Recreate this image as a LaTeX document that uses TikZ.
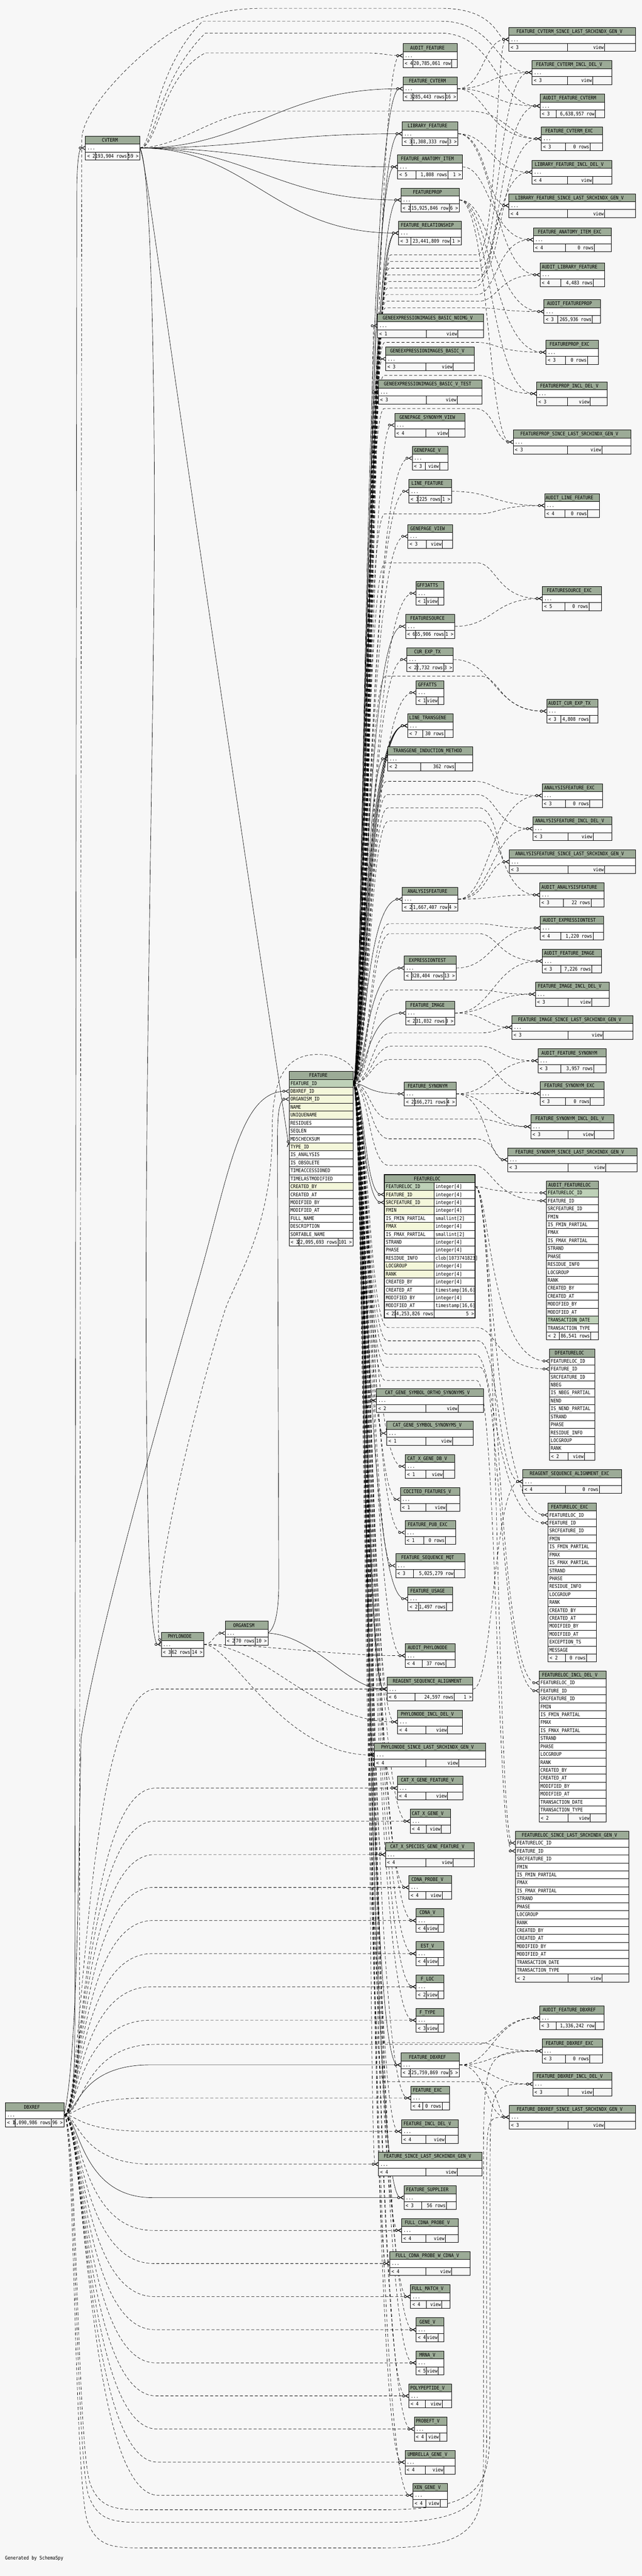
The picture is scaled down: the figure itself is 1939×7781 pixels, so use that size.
\documentclass[tikz,border=0pt]{standalone}
\usepackage{fontspec}
\newfontfamily\tf[FakeStretch=0.88]{DejaVu Sans Mono}
\usetikzlibrary{arrows.meta}
\definecolor{bgc}{HTML}{F7F7F7}
\definecolor{hdc}{HTML}{9CAB97}
\definecolor{pkc}{HTML}{BED1B8}
\definecolor{ixc}{HTML}{F4F7DA}
\definecolor{ftc}{HTML}{F7F7F7}
\pgfdeclarelayer{canvas}
\pgfdeclarelayer{edges}
\pgfsetlayers{canvas,edges,main}
\tikzset{
 cell/.style={draw=black,line width=0.55pt},
 txt/.style={inner sep=0pt,font=\tf\fontsize{7.55pt}{9pt}\selectfont,text height=5.5pt,text depth=0pt},
 tnode/.style={inner sep=0pt,minimum height=36pt},
 rnode/.style={inner sep=0pt,minimum height=12pt},
 crowtip/.style={-{Circle[fill=white,length=4pt,line width=0.7pt] Straight Barb[reversed,length=4.5pt,width=5pt,line width=0.8pt]}},
 fk/.style={line width=0.5pt,crowtip},
 imp/.style={line width=0.5pt,dash pattern=on 4.5pt off 3pt,crowtip},
}
\newcommand\zfoot[9]{%
 \fill[ftc] (#2,#4) rectangle (#3,#4+24);
 \draw[cell] (#2,#4) rectangle (#3,#4+24) (#8,#4) -- (#8,#4+24) (#9,#4) -- (#9,#4+24);
 \node[txt,anchor=west] (#1-fl) at (#2+5,#4+12) {#5};
 \node[txt,anchor=east] (#1-fm) at (#9-2,#4+12) {#6};
 \node[txt,anchor=east] (#1-fr) at (#3-3,#4+12) {#7};}
\newcommand\ztbl[9]{%
 \node[tnode,minimum width={(#3-#2)*0.5pt}] (#1) at ({(#2+#3)/2},#4+36) {};
 \fill[hdc] (#2,#4) rectangle (#3,#4+24);
 \fill[white] (#2,#4+24) rectangle (#3,#4+48);
 \draw[cell] (#2,#4) rectangle (#3,#4+48) (#2,#4+24) -- (#3,#4+24);
 \node[txt] (#1-t) at ({(#2+#3)/2-8},#4+12) {#1};
 \node[txt,anchor=west] (#1-d) at (#2+5,#4+36) {...};
 \zfoot{#1}{#2}{#3}{#4+48}{#5}{#6}{#7}{#8}{#9}}
\newcommand\zdtbl[6]{%
 \node[inner sep=0pt,minimum width={(#3-#2)*0.5pt},minimum height={(#5+2)*12pt}] (#1) at ({(#2+#3)/2},{#4+(#5+2)*12}) {};
 \fill[hdc] (#2,#4) rectangle (#3,#4+24);
 \node[txt] (#1-t) at ({(#2+#3)/2-8},#4+12) {#1};
 \foreach \tx/\cc [count=\i] in {#6}{%
  \fill[\cc] (#2,{#4+24*\i}) rectangle (#3,{#4+24*\i+24});
  \node[rnode,minimum width={(#3-#2)*0.5pt}] (#1-\i) at ({(#2+#3)/2},{#4+24*\i+12}) {};
  \node[txt,anchor=west] (#1-c\i) at (#2+4,{#4+24*\i+12}) {\tx};
  \draw[cell] (#2,{#4+24*\i}) -- (#3,{#4+24*\i});
 }
 \draw[cell] (#2,#4) rectangle (#3,{#4+24*(#5+1)});}
\newcommand\zdtblt[7]{%
 \node[inner sep=0pt,minimum width={(#3-#2)*0.5pt},minimum height={(#5+2)*12pt}] (#1) at ({(#2+#3)/2},{#4+(#5+2)*12}) {};
 \fill[hdc] (#2,#4) rectangle (#3,#4+24);
 \node[txt] (#1-t) at ({(#2+#3)/2-8},#4+12) {#1};
 \foreach \tx/\cc/\ty [count=\i] in {#6}{%
  \fill[\cc] (#2,{#4+24*\i}) rectangle (#7,{#4+24*\i+24});
  \fill[white] (#7,{#4+24*\i}) rectangle (#3,{#4+24*\i+24});
  \node[rnode,minimum width={(#3-#2)*0.5pt}] (#1-\i) at ({(#2+#3)/2},{#4+24*\i+12}) {};
  \node[txt,anchor=west] (#1-c\i) at (#2+4,{#4+24*\i+12}) {\tx};
  \node[txt,anchor=west] (#1-y\i) at (#7+4,{#4+24*\i+12}) {\ty};
  \draw[cell] (#2,{#4+24*\i}) -- (#3,{#4+24*\i});
 }
 \draw[cell] (#7,#4+24) -- (#7,{#4+24*(#5+1)});
 \draw[cell] (#2,#4) rectangle (#3,{#4+24*(#5+1)});}
\newcommand\zvc[4]{\draw[#1] (#3) .. controls (#2,0|-#3) and (#2,0|-#4) .. (#4);}
\newcommand\zfm[3]{\zvc{#1}{#2}{FEATURE-1.east}{#3.west}}
\newcommand\zfr[5]{\draw[#1] (FEATURE-1.east) .. controls (#2,3272) and (#2,#3) .. (#2+60,#3) -- (#4-60,#3) .. controls (#4,#3) and (#4,0|-#5.west) .. (#5.west);}
\newcommand\zdm[3]{\draw[#1] (DBXREF.east) .. controls (#2,0|-DBXREF.east) and (#2,0|-#3.west) .. (#2+220,0|-#3.west) -- (#3.west);}
\newcommand\zcm[1]{\draw[fk] (CVTERM.east) .. controls +(330,0) and +(-380,0) .. (#1.west);}
\newcommand\zct[3]{\draw[imp] (CVTERM.east) .. controls (#3,447) and (#3,#2+150) .. (#3+150,#2) -- (1330,#2) .. controls (1500,#2) and (1500,0|-#1.west) .. (#1.west);}
\newcommand\zdl[4]{\draw[imp] (DBXREF.east) .. controls (#3,6388) and (#3,#2-200) .. (#3+40,#2-80) .. controls (#3+70,#2) and (#3+120,#2) .. (#3+220,#2) -- (1150,#2) .. controls (#4,#2) and (#4,#2-80) .. (#4,#2-300) -- (#4,6600) .. controls (#4,0|-#1.west) .. (#1.west);}
\begin{document}
\catcode`\_=12
\begin{tikzpicture}[x=0.5pt,y=-0.5pt]
\begin{pgfonlayer}{canvas}
\fill[bgc] (0,0) rectangle (1939,7781);
\end{pgfonlayer}
\useasboundingbox (0,0) rectangle (1939,7781);
% ---------------- left column
\ztbl{CVTERM}{258}{422}{411}{< 2}{193,904 rows}{59 >}{288}{386}
\ztbl{PHYLONODE}{487}{615}{4931}{< 3}{62 rows}{14 >}{517}{577}
\ztbl{ORGANISM}{680}{809}{4897}{< 2}{70 rows}{10 >}{709}{771}
\ztbl{DBXREF}{16}{193}{6352}{< 1}{6,090,986 rows}{96 >}{45}{155}
\zdtbl{FEATURE}{873}{1066}{3236}{20}{FEATURE_ID/pkc,DBXREF_ID/ixc,ORGANISM_ID/ixc,NAME/ixc,UNIQUENAME/ixc,RESIDUES/white,SEQLEN/white,MD5CHECKSUM/white,TYPE_ID/ixc,IS_ANALYSIS/white,IS_OBSOLETE/white,TIMEACCESSIONED/white,TIMELASTMODIFIED/white,CREATED_BY/ixc,CREATED_AT/white,MODIFIED_BY/white,MODIFIED_AT/white,FULL_NAME/white,DESCRIPTION/white,SORTABLE_NAME/white}
\zfoot{FEATURE}{873}{1066}{3740}{< 3}{22,095,693 rows}{101 >}{903}{1021}
% ---------------- middle column
\ztbl{AUDIT_FEATURE}{1217}{1381}{132}{< 4}{20,785,061 row}{}{1247}{1364}
\ztbl{FEATURE_CVTERM}{1217}{1381}{232}{< 3}{285,443 rows}{16 >}{1247}{1345}
\ztbl{LIBRARY_FEATURE}{1215}{1383}{368}{< 3}{1,308,333 row}{3 >}{1244}{1353}
\ztbl{FEATURE_ANATOMY_ITEM}{1201}{1396}{468}{< 5}{1,808 rows}{1 >}{1257}{1353}
\ztbl{FEATUREPROP}{1211}{1387}{568}{< 2}{15,925,846 row}{6 >}{1240}{1357}
\ztbl{FEATURE_RELATIONSHIP}{1204}{1393}{668}{< 3}{23,441,809 row}{1 >}{1241}{1361}
\ztbl{GENEEXPRESSIONIMAGES_BASIC_NOIMG_V}{1140}{1460}{948}{< 1}{view}{}{1287}{1383}
\ztbl{GENEEXPRESSIONIMAGES_BASIC_V}{1165}{1432}{1048}{< 3}{view}{}{1286}{1369}
\ztbl{GENEEXPRESSIONIMAGES_BASIC_V_TEST}{1143}{1456}{1148}{< 3}{view}{}{1287}{1381}
\ztbl{GENEPAGE_SYNONYM_VIEW}{1192}{1405}{1248}{< 4}{view}{}{1286}{1355}
\ztbl{GENEPAGE_V}{1245}{1353}{1348}{< 3}{view}{}{1285}{1328}
\ztbl{LINE_FEATURE}{1235}{1363}{1448}{< 3}{225 rows}{1 >}{1263}{1333}
\ztbl{GENEPAGE_VIEW}{1232}{1367}{1584}{< 3}{view}{}{1288}{1336}
\ztbl{GFF3ATTS}{1257}{1341}{1756}{< 1}{view}{}{1288}{1324}
\ztbl{FEATURESOURCE}{1225}{1373}{1856}{< 6}{55,906 rows}{1 >}{1255}{1344}
\ztbl{CUR_EXP_TX}{1229}{1369}{1956}{< 2}{2,732 rows}{3 >}{1260}{1340}
\ztbl{GFFATTS}{1257}{1341}{2056}{< 1}{view}{}{1288}{1324}
\ztbl{LINE_TRANSGENE}{1231}{1369}{2156}{< 7}{30 rows}{}{1276}{1343}
\ztbl{TRANSGENE_INDUCTION_METHOD}{1171}{1428}{2256}{< 2}{362 rows}{}{1271}{1375}
\ztbl{ANALYSISFEATURE}{1215}{1383}{2680}{< 2}{1,667,407 row}{4 >}{1244}{1354}
\ztbl{EXPRESSIONTEST}{1221}{1377}{2888}{< 3}{28,404 rows}{13 >}{1243}{1341}
\ztbl{FEATURE_IMAGE}{1225}{1373}{3024}{< 2}{31,032 rows}{3 >}{1255}{1346}
\ztbl{FEATURE_SYNONYM}{1221}{1377}{3268}{< 2}{166,271 rows}{4 >}{1252}{1349}
\zdtblt{FEATURELOC}{1161}{1435}{3548}{16}{FEATURELOC_ID/pkc/integer[4],FEATURE_ID/ixc/integer[4],SRCFEATURE_ID/ixc/integer[4],FMIN/ixc/integer[4],IS_FMIN_PARTIAL/white/smallint[2],FMAX/ixc/integer[4],IS_FMAX_PARTIAL/white/smallint[2],STRAND/white/integer[4],PHASE/white/integer[4],RESIDUE_INFO/white/clob[1073741823],LOCGROUP/ixc/integer[4],RANK/ixc/integer[4],CREATED_BY/white/integer[4],CREATED_AT/white/{timestamp[16,6]},MODIFIED_BY/white/integer[4],MODIFIED_AT/white/{timestamp[16,6]}}{1311}
\zfoot{FEATURELOC}{1161}{1435}{3956}{< 2}{14,253,826 rows}{5 >}{1194}{1311}
\draw[line width=1.5pt] (1161,3548) rectangle (1435,3980);
\ztbl{CAT_GENE_SYMBOL_ORTHO_SYNONYMS_V}{1137}{1461}{4194}{< 2}{view}{}{1286}{1384}
\ztbl{CAT_GENE_SYMBOL_SYNONYMS_V}{1168}{1429}{4293}{< 1}{view}{}{1286}{1367}
\ztbl{CAT_X_GENE_DB_V}{1224}{1373}{4393}{< 1}{view}{}{1286}{1339}
\ztbl{COCITED_FEATURES_V}{1209}{1388}{4493}{< 1}{view}{}{1286}{1348}
\ztbl{FEATURE_PUB_EXC}{1223}{1376}{4593}{< 1}{0 rows}{}{1279}{1345}
\ztbl{FEATURE_SEQUENCE_MQT}{1195}{1404}{4693}{< 3}{5,025,279 row}{}{1249}{1372}
\ztbl{FEATURE_USAGE}{1232}{1367}{4793}{< 2}{1,497 rows}{}{1264}{1348}
\ztbl{AUDIT_PHYLONODE}{1224}{1375}{4965}{< 4}{37 rows}{}{1275}{1347}
\ztbl{REAGENT_SEQUENCE_ALIGNMENT}{1169}{1428}{5066}{< 6}{24,597 rows}{1 >}{1253}{1372}
\ztbl{PHYLONODE_INCL_DEL_V}{1201}{1396}{5165}{< 4}{view}{}{1286}{1352}
\ztbl{PHYLONODE_SINCE_LAST_SRCHINDX_GEN_V}{1131}{1467}{5265}{< 4}{view}{}{1286}{1386}
\ztbl{CAT_X_GENE_FEATURE_V}{1200}{1398}{5365}{< 4}{view}{}{1286}{1352}
\ztbl{CAT_X_GENE_V}{1239}{1361}{5465}{< 4}{view}{}{1288}{1333}
\ztbl{CAT_X_SPECIES_GENE_FEATURE_V}{1164}{1433}{5566}{< 4}{view}{}{1286}{1369}
\ztbl{CDNA_PROBE_V}{1235}{1363}{5665}{< 4}{view}{}{1286}{1335}
\ztbl{CDNA_V}{1257}{1341}{5765}{< 4}{view}{}{1288}{1324}
\ztbl{EST_V}{1257}{1341}{5865}{< 4}{view}{}{1288}{1324}
\ztbl{F_LOC}{1257}{1341}{5965}{< 2}{view}{}{1288}{1324}
\ztbl{F_TYPE}{1257}{1341}{6066}{< 3}{view}{}{1288}{1324}
\ztbl{FEATURE_DBXREF}{1211}{1387}{6201}{< 2}{25,759,869 row}{5 >}{1240}{1357}
\ztbl{FEATURE_EXC}{1241}{1357}{6301}{< 4}{0 rows}{}{1277}{1335}
\ztbl{FEATURE_INCL_DEL_V}{1213}{1384}{6402}{< 4}{view}{}{1286}{1345}
\ztbl{FEATURE_SINCE_LAST_SRCHINDX_GEN_V}{1143}{1455}{6501}{< 4}{view}{}{1286}{1381}
\ztbl{FEATURE_SUPPLIER}{1220}{1377}{6602}{< 3}{56 rows}{}{1273}{1348}
\ztbl{FULL_CDNA_PROBE_V}{1213}{1384}{6701}{< 4}{view}{}{1286}{1345}
\ztbl{FULL_CDNA_PROBE_W_CDNA_V}{1177}{1420}{6801}{< 4}{view}{}{1286}{1364}
\ztbl{FULL_MATCH_V}{1240}{1359}{6901}{< 4}{view}{}{1288}{1334}
\ztbl{GENE_V}{1257}{1341}{7001}{< 4}{view}{}{1288}{1324}
\ztbl{MRNA_V}{1257}{1341}{7101}{< 5}{view}{}{1288}{1324}
\ztbl{POLYPEPTIDE_V}{1235}{1363}{7201}{< 4}{view}{}{1285}{1335}
\ztbl{PROBEFT_V}{1251}{1349}{7301}{< 4}{view}{}{1288}{1328}
\ztbl{UMBRELLA_GENE_V}{1223}{1375}{7401}{< 4}{view}{}{1285}{1341}
\ztbl{XEN_GENE_V}{1247}{1351}{7501}{< 4}{view}{}{1286}{1329}
% ---------------- right column
\ztbl{FEATURE_CVTERM_SINCE_LAST_SRCHINDX_GEN_V}{1537}{1919}{83}{< 3}{view}{}{1714}{1826}
\ztbl{FEATURE_CVTERM_INCL_DEL_V}{1607}{1847}{183}{< 3}{view}{}{1714}{1790}
\ztbl{AUDIT_FEATURE_CVTERM}{1631}{1826}{284}{< 3}{6,638,957 row}{}{1679}{1798}
\ztbl{FEATURE_CVTERM_EXC}{1635}{1819}{383}{< 3}{0 rows}{}{1707}{1782}
\ztbl{LIBRARY_FEATURE_INCL_DEL_V}{1607}{1847}{484}{< 4}{view}{}{1714}{1790}
\ztbl{LIBRARY_FEATURE_SINCE_LAST_SRCHINDX_GEN_V}{1537}{1919}{585}{< 4}{view}{}{1714}{1826}
\ztbl{FEATURE_ANATOMY_ITEM_EXC}{1611}{1846}{688}{< 4}{0 rows}{}{1707}{1795}
\ztbl{AUDIT_LIBRARY_FEATURE}{1631}{1826}{794}{< 4}{4,483 rows}{}{1693}{1792}
\ztbl{AUDIT_FEATUREPROP}{1643}{1813}{905}{< 3}{265,936 rows}{}{1685}{1789}
\ztbl{FEATUREPROP_EXC}{1649}{1807}{1028}{< 3}{0 rows}{}{1707}{1774}
\ztbl{FEATUREPROP_INCL_DEL_V}{1621}{1834}{1153}{< 3}{view}{}{1714}{1783}
\ztbl{FEATUREPROP_SINCE_LAST_SRCHINDX_GEN_V}{1550}{1905}{1299}{< 3}{view}{}{1714}{1818}
\ztbl{AUDIT_LINE_FEATURE}{1645}{1811}{1491}{< 4}{0 rows}{}{1706}{1775}
\ztbl{FEATURESOURCE_EXC}{1638}{1817}{1772}{< 5}{0 rows}{}{1706}{1779}
\ztbl{AUDIT_CUR_EXP_TX}{1651}{1805}{2112}{< 3}{4,808 rows}{}{1693}{1781}
\ztbl{ANALYSISFEATURE_EXC}{1637}{1819}{2367}{< 3}{0 rows}{}{1707}{1781}
\ztbl{ANALYSISFEATURE_INCL_DEL_V}{1609}{1848}{2467}{< 3}{view}{}{1715}{1791}
\ztbl{ANALYSISFEATURE_SINCE_LAST_SRCHINDX_GEN_V}{1538}{1919}{2567}{< 3}{view}{}{1715}{1826}
\ztbl{AUDIT_ANALYSISFEATURE}{1630}{1825}{2667}{< 3}{22 rows}{}{1702}{1785}
\ztbl{AUDIT_EXPRESSIONTEST}{1632}{1823}{2767}{< 4}{1,220 rows}{}{1693}{1791}
\ztbl{AUDIT_FEATURE_IMAGE}{1638}{1817}{2867}{< 3}{7,226 rows}{}{1693}{1787}
\ztbl{FEATURE_IMAGE_INCL_DEL_V}{1617}{1840}{2967}{< 3}{view}{}{1715}{1787}
\ztbl{FEATURE_IMAGE_SINCE_LAST_SRCHINDX_GEN_V}{1546}{1911}{3067}{< 3}{view}{}{1715}{1822}
\ztbl{AUDIT_FEATURE_SYNONYM}{1625}{1830}{3168}{< 3}{3,957 rows}{}{1693}{1793}
\ztbl{FEATURE_SYNONYM_EXC}{1631}{1825}{3267}{< 3}{0 rows}{}{1707}{1783}
\ztbl{FEATURE_SYNONYM_INCL_DEL_V}{1603}{1854}{3367}{< 3}{view}{}{1715}{1795}
\ztbl{FEATURE_SYNONYM_SINCE_LAST_SRCHINDX_GEN_V}{1533}{1924}{3467}{< 3}{view}{}{1715}{1829}
\zdtbl{AUDIT_FEATURELOC}{1650}{1807}{3567}{18}{FEATURELOC_ID/pkc,FEATURE_ID/white,SRCFEATURE_ID/white,FMIN/white,IS_FMIN_PARTIAL/white,FMAX/white,IS_FMAX_PARTIAL/white,STRAND/white,PHASE/white,RESIDUE_INFO/white,LOCGROUP/white,RANK/white,CREATED_BY/white,CREATED_AT/white,MODIFIED_BY/white,MODIFIED_AT/white,TRANSACTION_DATE/pkc,TRANSACTION_TYPE/white}
\zfoot{AUDIT_FEATURELOC}{1650}{1807}{4023}{< 2}{86,541 rows}{}{1689}{1784}
\zdtbl{DFEATURELOC}{1659}{1797}{4075}{12}{FEATURELOC_ID/white,FEATURE_ID/white,SRCFEATURE_ID/white,NBEG/white,IS_NBEG_PARTIAL/white,NEND/white,IS_NEND_PARTIAL/white,STRAND/white,PHASE/white,RESIDUE_INFO/white,LOCGROUP/white,RANK/white}
\zfoot{DFEATURELOC}{1659}{1797}{4387}{< 2}{view}{}{1715}{1765}
\ztbl{REAGENT_SEQUENCE_ALIGNMENT_EXC}{1579}{1877}{4439}{< 4}{0 rows}{}{1707}{1810}
\zdtbl{FEATURELOC_EXC}{1655}{1801}{4540}{18}{FEATURELOC_ID/white,FEATURE_ID/white,SRCFEATURE_ID/white,FMIN/white,IS_FMIN_PARTIAL/white,FMAX/white,IS_FMAX_PARTIAL/white,STRAND/white,PHASE/white,RESIDUE_INFO/white,LOCGROUP/white,RANK/white,CREATED_BY/white,CREATED_AT/white,MODIFIED_BY/white,MODIFIED_AT/white,EXCEPTION_TS/white,MESSAGE/white}
\zfoot{FEATURELOC_EXC}{1655}{1801}{4996}{< 2}{0 rows}{}{1707}{1771}
\zdtbl{FEATURELOC_INCL_DEL_V}{1628}{1830}{5047}{17}{FEATURELOC_ID/white,FEATURE_ID/white,SRCFEATURE_ID/white,FMIN/white,IS_FMIN_PARTIAL/white,FMAX/white,IS_FMAX_PARTIAL/white,STRAND/white,PHASE/white,LOCGROUP/white,RANK/white,CREATED_BY/white,CREATED_AT/white,MODIFIED_BY/white,MODIFIED_AT/white,TRANSACTION_DATE/white,TRANSACTION_TYPE/white}
\zfoot{FEATURELOC_INCL_DEL_V}{1628}{1830}{5479}{< 2}{view}{}{1715}{1783}
\zdtbl{FEATURELOC_SINCE_LAST_SRCHINDX_GEN_V}{1557}{1899}{5531}{17}{FEATURELOC_ID/white,FEATURE_ID/white,SRCFEATURE_ID/white,FMIN/white,IS_FMIN_PARTIAL/white,FMAX/white,IS_FMAX_PARTIAL/white,STRAND/white,PHASE/white,LOCGROUP/white,RANK/white,CREATED_BY/white,CREATED_AT/white,MODIFIED_BY/white,MODIFIED_AT/white,TRANSACTION_DATE/white,TRANSACTION_TYPE/white}
\zfoot{FEATURELOC_SINCE_LAST_SRCHINDX_GEN_V}{1557}{1899}{5963}{< 2}{view}{}{1715}{1818}
\ztbl{AUDIT_FEATURE_DBXREF}{1630}{1825}{6059}{< 3}{1,336,242 row}{}{1679}{1798}
\ztbl{FEATURE_DBXREF_EXC}{1637}{1819}{6159}{< 3}{0 rows}{}{1707}{1781}
\ztbl{FEATURE_DBXREF_INCL_DEL_V}{1609}{1848}{6259}{< 3}{view}{}{1715}{1791}
\ztbl{FEATURE_DBXREF_SINCE_LAST_SRCHINDX_GEN_V}{1538}{1919}{6359}{< 3}{view}{}{1715}{1826}
\node[txt,anchor=west] (gen) at (15,7726) {Generated by SchemaSpy};
% ================= connectors
\begin{pgfonlayer}{edges}
% CVTERM
\zcm{FEATURE_CVTERM}
\zcm{LIBRARY_FEATURE}
\zcm{FEATURE_ANATOMY_ITEM}
\zcm{FEATUREPROP}
\zcm{FEATURE_RELATIONSHIP}
\zct{FEATURE_CVTERM_INCL_DEL_V}{64}{462}
\zct{AUDIT_FEATURE_CVTERM}{100}{470}
\draw[imp] (CVTERM.east) .. controls (478,447) and (485,230) .. (620,160) -- (1100,160) .. controls (1160,160) and (1170,168) .. (AUDIT_FEATURE.west);
\draw[imp] (CVTERM.east) .. controls (560,440) and (650,336) .. (800,336) -- (1420,336) .. controls (1525,336) and (1540,419) .. (FEATURE_CVTERM_EXC.west);
\draw[fk] (CVTERM.east) .. controls (445,500) and (470,800) .. (FEATURE-9.west);
\draw[fk] (CVTERM.east) .. controls (445,480) and (462,800) .. (466,1400) .. controls (470,2000) and (441,3000) .. (441,3950) .. controls (442,4500) and (450,4967) .. (PHYLONODE.west);
% DBXREF
\draw[fk] (DBXREF.east) .. controls (228,6388) and (226,6200) .. (226,6000) -- (232,560) .. controls (234,470) and (240,447) .. (CVTERM.west);
\draw[imp] (DBXREF.east) .. controls (236,6388) and (240,6200) .. (240,6000) -- (247,420) .. controls (250,330) and (400,180) .. (500,110) .. controls (600,40) and (700,25) .. (800,25) -- (1330,25) .. controls (1500,25) and (1500,119) .. (FEATURE_CVTERM_SINCE_LAST_SRCHINDX_GEN_V.west);
\draw[fk] (DBXREF.east) .. controls (238,6200) and (238,5500) .. (245,5250) .. controls (300,4900) and (520,4150) .. (590,3900) .. controls (690,3560) and (720,3296) .. (FEATURE-2.west);
\zdm{imp}{252}{REAGENT_SEQUENCE_ALIGNMENT}
\zdm{imp}{250}{CAT_X_GENE_FEATURE_V}
\zdm{imp}{248}{CAT_X_GENE_V}
\zdm{imp}{246}{CAT_X_SPECIES_GENE_FEATURE_V}
\zdm{imp}{244}{CDNA_PROBE_V}
\zdm{imp}{242}{CDNA_V}
\zdm{imp}{240}{EST_V}
\zdm{imp}{238}{F_LOC}
\zdm{imp}{236}{F_TYPE}
\zdm{fk}{234}{FEATURE_DBXREF}
\zdm{imp}{234}{FEATURE_EXC}
\zdm{imp}{236}{FEATURE_INCL_DEL_V}
\zdm{imp}{238}{FEATURE_SINCE_LAST_SRCHINDX_GEN_V}
\zdm{fk}{240}{FEATURE_SUPPLIER}
\zdm{imp}{242}{FULL_CDNA_PROBE_V}
\zdm{imp}{244}{FULL_CDNA_PROBE_W_CDNA_V}
\zdm{imp}{246}{FULL_MATCH_V}
\zdm{imp}{248}{GENE_V}
\zdm{imp}{250}{MRNA_V}
\zdm{imp}{252}{POLYPEPTIDE_V}
\zdm{imp}{254}{PROBEFT_V}
\zdm{imp}{256}{UMBRELLA_GENE_V}
\zdm{imp}{258}{XEN_GENE_V}
\draw[imp] (DBXREF.east) .. controls (250,6388) and (250,6175) .. (470,6175) -- (1440,6175) .. controls (1510,6175) and (1510,6095) .. (AUDIT_FEATURE_DBXREF.west);
\zdl{FEATURE_DBXREF_INCL_DEL_V}{7581}{232}{1480}
\zdl{FEATURE_DBXREF_SINCE_LAST_SRCHINDX_GEN_V}{7619}{228}{1470}
\zdl{FEATURE_DBXREF_EXC}{7696}{224}{1460}
% ORGANISM / PHYLONODE
\draw[fk] (ORGANISM.east) .. controls (828,4920) and (842,4880) .. (842,4780) -- (838,3450) .. controls (838,3350) and (845,3320) .. (FEATURE-3.west);
\draw[fk] (ORGANISM.east) .. controls (950,4940) and (1050,5102) .. (REAGENT_SEQUENCE_ALIGNMENT.west);
\draw[imp] (PHYLONODE.east) .. controls (645,4967) and (645,4933) .. (ORGANISM.west);
\draw[imp] (PHYLONODE.east) .. controls (800,4967) and (1000,5001) .. (AUDIT_PHYLONODE.west);
\draw[imp] (PHYLONODE.east) .. controls (800,4967) and (950,5201) .. (PHYLONODE_INCL_DEL_V.west);
\draw[imp] (PHYLONODE.east) .. controls (700,4967) and (850,5301) .. (PHYLONODE_SINCE_LAST_SRCHINDX_GEN_V.west);
\draw[imp] (FEATURE-1.east) .. controls (1090,3230) and (1040,3185) .. (960,3185) .. controls (860,3185) and (822,3260) .. (822,3420) .. controls (822,3700) and (720,3850) .. (682,3950) .. controls (600,4200) and (478,4700) .. (478,4870) .. controls (478,4940) .. (PHYLONODE.west);
% FEATURE -> middle
\zfm{imp}{1120}{AUDIT_FEATURE}
\zfm{fk}{1098}{FEATURE_CVTERM}
\zfm{fk}{1100}{LIBRARY_FEATURE}
\zfm{fk}{1102}{FEATURE_ANATOMY_ITEM}
\zfm{fk}{1104}{FEATUREPROP}
\zfm{fk}{1106}{FEATURE_RELATIONSHIP}
\zfm{fk}{1096}{FEATURE_RELATIONSHIP}
\zfm{imp}{1118}{GENEEXPRESSIONIMAGES_BASIC_NOIMG_V}
\zfm{imp}{1116}{GENEEXPRESSIONIMAGES_BASIC_V}
\zfm{imp}{1114}{GENEEXPRESSIONIMAGES_BASIC_V_TEST}
\zfm{imp}{1112}{GENEPAGE_SYNONYM_VIEW}
\zfm{imp}{1110}{GENEPAGE_V}
\zfm{imp}{1108}{LINE_FEATURE}
\zfm{imp}{1106}{GENEPAGE_VIEW}
\zfm{imp}{1112}{GFF3ATTS}
\zfm{fk}{1100}{FEATURESOURCE}
\zfm{imp}{1110}{CUR_EXP_TX}
\zfm{imp}{1114}{GFFATTS}
\zfm{fk}{1094}{LINE_TRANSGENE}
\zfm{fk}{1098}{LINE_TRANSGENE}
\zfm{fk}{1102}{LINE_TRANSGENE}
\zfm{fk}{1106}{LINE_TRANSGENE}
\zfm{fk}{1102}{TRANSGENE_INDUCTION_METHOD}
\zfm{fk}{1100}{ANALYSISFEATURE}
\zfm{fk}{1102}{EXPRESSIONTEST}
\zfm{fk}{1104}{FEATURE_IMAGE}
\zfm{fk}{1106}{FEATURE_SYNONYM}
\zvc{fk}{1100}{FEATURE-1.east}{FEATURELOC-2.west}
\zvc{fk}{1096}{FEATURE-1.east}{FEATURELOC-3.west}
\zfm{imp}{1110}{CAT_GENE_SYMBOL_ORTHO_SYNONYMS_V}
\zfm{imp}{1112}{CAT_GENE_SYMBOL_SYNONYMS_V}
\zfm{imp}{1114}{CAT_X_GENE_DB_V}
\zfm{imp}{1116}{COCITED_FEATURES_V}
\zfm{imp}{1118}{FEATURE_PUB_EXC}
\zfm{imp}{1120}{FEATURE_SEQUENCE_MQT}
\zfm{fk}{1102}{FEATURE_USAGE}
\zfm{imp}{1118}{AUDIT_PHYLONODE}
\zfm{fk}{1100}{REAGENT_SEQUENCE_ALIGNMENT}
\zfm{fk}{1104}{REAGENT_SEQUENCE_ALIGNMENT}
\zfm{imp}{1116}{PHYLONODE_INCL_DEL_V}
\zfm{imp}{1112}{PHYLONODE_SINCE_LAST_SRCHINDX_GEN_V}
\zfm{imp}{1114}{CAT_X_GENE_FEATURE_V}
\zfm{imp}{1116}{CAT_X_GENE_V}
\zfm{imp}{1118}{CAT_X_SPECIES_GENE_FEATURE_V}
\zfm{imp}{1120}{CDNA_PROBE_V}
\zfm{imp}{1118}{CDNA_V}
\zfm{imp}{1116}{EST_V}
\zfm{imp}{1114}{F_LOC}
\zfm{imp}{1112}{F_TYPE}
\zfm{fk}{1102}{FEATURE_DBXREF}
\zfm{imp}{1110}{FEATURE_EXC}
\zfm{imp}{1112}{FEATURE_INCL_DEL_V}
\zfm{imp}{1114}{FEATURE_SINCE_LAST_SRCHINDX_GEN_V}
\zfm{fk}{1104}{FEATURE_SUPPLIER}
\zfm{imp}{1116}{FULL_CDNA_PROBE_V}
\zfm{imp}{1118}{FULL_CDNA_PROBE_W_CDNA_V}
\zfm{imp}{1120}{FULL_MATCH_V}
\zfm{imp}{1118}{GENE_V}
\zfm{imp}{1116}{MRNA_V}
\zfm{imp}{1114}{POLYPEPTIDE_V}
\zfm{imp}{1112}{PROBEFT_V}
\zfm{imp}{1110}{UMBRELLA_GENE_V}
\zfm{imp}{1108}{XEN_GENE_V}
% FEATURE -> right column
\zfr{imp}{1120}{770}{1500}{FEATURE_CVTERM_SINCE_LAST_SRCHINDX_GEN_V}
\zfr{imp}{1118}{790}{1505}{FEATURE_CVTERM_INCL_DEL_V}
\zfr{imp}{1116}{810}{1510}{AUDIT_FEATURE_CVTERM}
\zfr{imp}{1114}{830}{1515}{FEATURE_CVTERM_EXC}
\zfr{imp}{1112}{850}{1495}{LIBRARY_FEATURE_INCL_DEL_V}
\zfr{imp}{1110}{870}{1490}{LIBRARY_FEATURE_SINCE_LAST_SRCHINDX_GEN_V}
\zfr{imp}{1108}{890}{1500}{FEATURE_ANATOMY_ITEM_EXC}
\zfr{imp}{1106}{910}{1505}{AUDIT_LIBRARY_FEATURE}
\zfr{imp}{1104}{930}{1510}{AUDIT_FEATUREPROP}
\zfr{imp}{1102}{1034}{1500}{FEATUREPROP_EXC}
\zfr{imp}{1100}{1134}{1505}{FEATUREPROP_INCL_DEL_V}
\zfr{imp}{1100}{1234}{1495}{FEATUREPROP_SINCE_LAST_SRCHINDX_GEN_V}
\zfr{imp}{1102}{1552}{1505}{AUDIT_LINE_FEATURE}
\zfr{imp}{1104}{1700}{1500}{FEATURESOURCE_EXC}
\zfr{imp}{1106}{2042}{1510}{AUDIT_CUR_EXP_TX}
\zfr{imp}{1108}{2360}{1495}{ANALYSISFEATURE_EXC}
\zfr{imp}{1110}{2400}{1500}{ANALYSISFEATURE_INCL_DEL_V}
\zfr{imp}{1112}{2440}{1505}{ANALYSISFEATURE_SINCE_LAST_SRCHINDX_GEN_V}
\zfr{imp}{1114}{2480}{1510}{AUDIT_ANALYSISFEATURE}
\zfr{imp}{1116}{2790}{1500}{AUDIT_EXPRESSIONTEST}
\zfr{imp}{1118}{2820}{1505}{AUDIT_FEATURE_IMAGE}
\zfr{imp}{1120}{2990}{1500}{FEATURE_IMAGE_INCL_DEL_V}
\zfr{imp}{1122}{3120}{1505}{FEATURE_IMAGE_SINCE_LAST_SRCHINDX_GEN_V}
\zfr{imp}{1124}{3160}{1510}{AUDIT_FEATURE_SYNONYM}
\zfr{imp}{1120}{3200}{1500}{FEATURE_SYNONYM_EXC}
\zfr{imp}{1118}{3380}{1505}{FEATURE_SYNONYM_INCL_DEL_V}
\zfr{imp}{1116}{3440}{1495}{FEATURE_SYNONYM_SINCE_LAST_SRCHINDX_GEN_V}
\zfr{imp}{1114}{3520}{1490}{AUDIT_FEATURELOC-2}
\zfr{imp}{1112}{4010}{1500}{DFEATURELOC-2}
\zfr{imp}{1110}{4050}{1505}{REAGENT_SEQUENCE_ALIGNMENT_EXC}
\zfr{imp}{1108}{4090}{1495}{FEATURELOC_EXC-2}
\zfr{imp}{1106}{4130}{1510}{FEATURELOC_INCL_DEL_V-2}
\zfr{imp}{1104}{4170}{1500}{FEATURELOC_SINCE_LAST_SRCHINDX_GEN_V-2}
\zfr{imp}{1102}{6170}{1500}{FEATURE_DBXREF_EXC}
\zfr{imp}{1100}{6288}{1505}{FEATURE_DBXREF_SINCE_LAST_SRCHINDX_GEN_V}
% FEATURELOC -> right
\zvc{imp}{1470}{FEATURELOC-1.east}{AUDIT_FEATURELOC-1.west}
\zvc{imp}{1478}{FEATURELOC-1.east}{DFEATURELOC-1.west}
\zvc{imp}{1486}{FEATURELOC-1.east}{FEATURELOC_EXC-1.west}
\zvc{imp}{1494}{FEATURELOC-1.east}{FEATURELOC_INCL_DEL_V-1.west}
\zvc{imp}{1502}{FEATURELOC-1.east}{FEATURELOC_SINCE_LAST_SRCHINDX_GEN_V-1.west}
% middle -> right (implied)
\zvc{imp}{1460}{FEATURE_CVTERM.east}{FEATURE_CVTERM_SINCE_LAST_SRCHINDX_GEN_V.west}
\zvc{imp}{1480}{FEATURE_CVTERM.east}{FEATURE_CVTERM_INCL_DEL_V.west}
\zvc{imp}{1490}{FEATURE_CVTERM.east}{AUDIT_FEATURE_CVTERM.west}
\zvc{imp}{1470}{FEATURE_CVTERM.east}{FEATURE_CVTERM_EXC.west}
\zvc{imp}{1480}{LIBRARY_FEATURE.east}{LIBRARY_FEATURE_INCL_DEL_V.west}
\zvc{imp}{1470}{LIBRARY_FEATURE.east}{LIBRARY_FEATURE_SINCE_LAST_SRCHINDX_GEN_V.west}
\zvc{imp}{1490}{LIBRARY_FEATURE.east}{AUDIT_LIBRARY_FEATURE.west}
\zvc{imp}{1480}{FEATURE_ANATOMY_ITEM.east}{FEATURE_ANATOMY_ITEM_EXC.west}
\zvc{imp}{1490}{FEATUREPROP.east}{AUDIT_FEATUREPROP.west}
\zvc{imp}{1485}{FEATUREPROP.east}{FEATUREPROP_EXC.west}
\zvc{imp}{1480}{FEATUREPROP.east}{FEATUREPROP_INCL_DEL_V.west}
\zvc{imp}{1475}{FEATUREPROP.east}{FEATUREPROP_SINCE_LAST_SRCHINDX_GEN_V.west}
\zvc{imp}{1490}{LINE_FEATURE.east}{AUDIT_LINE_FEATURE.west}
\zvc{imp}{1490}{FEATURESOURCE.east}{FEATURESOURCE_EXC.west}
\zvc{imp}{1490}{CUR_EXP_TX.east}{AUDIT_CUR_EXP_TX.west}
\zvc{imp}{1480}{ANALYSISFEATURE.east}{ANALYSISFEATURE_EXC.west}
\zvc{imp}{1485}{ANALYSISFEATURE.east}{ANALYSISFEATURE_INCL_DEL_V.west}
\zvc{imp}{1475}{ANALYSISFEATURE.east}{ANALYSISFEATURE_SINCE_LAST_SRCHINDX_GEN_V.west}
\zvc{imp}{1490}{ANALYSISFEATURE.east}{AUDIT_ANALYSISFEATURE.west}
\zvc{imp}{1490}{EXPRESSIONTEST.east}{AUDIT_EXPRESSIONTEST.west}
\zvc{imp}{1490}{FEATURE_IMAGE.east}{AUDIT_FEATURE_IMAGE.west}
\zvc{imp}{1480}{FEATURE_IMAGE.east}{FEATURE_IMAGE_INCL_DEL_V.west}
\zvc{imp}{1470}{FEATURE_IMAGE.east}{FEATURE_IMAGE_SINCE_LAST_SRCHINDX_GEN_V.west}
\zvc{imp}{1490}{FEATURE_SYNONYM.east}{AUDIT_FEATURE_SYNONYM.west}
\zvc{imp}{1485}{FEATURE_SYNONYM.east}{FEATURE_SYNONYM_EXC.west}
\zvc{imp}{1480}{FEATURE_SYNONYM.east}{FEATURE_SYNONYM_INCL_DEL_V.west}
\zvc{imp}{1470}{FEATURE_SYNONYM.east}{FEATURE_SYNONYM_SINCE_LAST_SRCHINDX_GEN_V.west}
\zvc{imp}{1490}{REAGENT_SEQUENCE_ALIGNMENT.east}{REAGENT_SEQUENCE_ALIGNMENT_EXC.west}
\zvc{imp}{1490}{FEATURE_DBXREF.east}{AUDIT_FEATURE_DBXREF.west}
\zvc{imp}{1485}{FEATURE_DBXREF.east}{FEATURE_DBXREF_EXC.west}
\zvc{imp}{1480}{FEATURE_DBXREF.east}{FEATURE_DBXREF_INCL_DEL_V.west}
\zvc{imp}{1470}{FEATURE_DBXREF.east}{FEATURE_DBXREF_SINCE_LAST_SRCHINDX_GEN_V.west}
\end{pgfonlayer}
\end{tikzpicture}
\end{document}
